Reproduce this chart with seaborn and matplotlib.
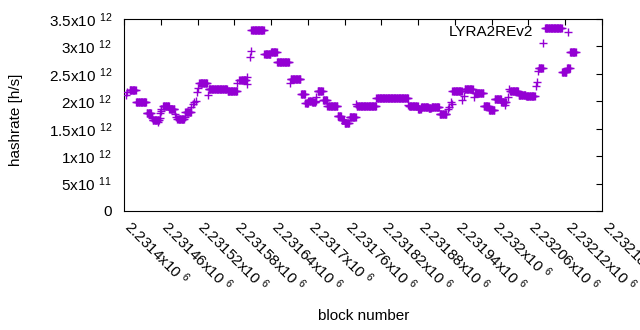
import numpy as np
import pandas as pd
import matplotlib
matplotlib.use("Agg")
import matplotlib.pyplot as plt
import matplotlib.transforms as mtransforms
import seaborn as sns
from matplotlib.ticker import FuncFormatter, FixedLocator

sns.set_theme(style="white")
plt.rcParams["font.family"] = ["Liberation Sans", "DejaVu Sans"]
plt.rcParams["mathtext.fontset"] = "custom"
plt.rcParams["mathtext.rm"] = "Liberation Sans"
plt.rcParams["mathtext.it"] = "Liberation Sans:italic"
plt.rcParams["mathtext.bf"] = "Liberation Sans:bold"
plt.rcParams["mathtext.default"] = "regular"

# ---- data: runs of blocks with a constant hashrate estimate ----
base_block = 2231400
run_start = [3, 5, 9, 20, 37, 45, 46, 47, 55, 58, 59, 60, 61, 64, 74, 83, 85, 87, 99, 100,
             110, 112, 115, 117, 119, 120, 123, 137, 138, 169, 185, 187, 190, 200, 201, 205, 207, 208, 229, 240,
             250, 271, 272, 289, 296, 301, 307, 313, 314, 316, 325, 332, 333, 349, 355, 360, 368, 379, 380, 412,
             464, 465, 480, 485, 497, 502, 515, 529, 531, 533, 535, 536, 552, 554, 556, 571, 573, 587, 596, 605,
             616, 622, 626, 629, 630, 644, 656, 672, 674, 676, 677, 684, 687, 715, 723, 724, 728]
run_end = [3, 5, 19, 36, 44, 45, 46, 57, 55, 58, 59, 60, 61, 73, 82, 83, 85, 98, 99, 109,
           110, 112, 115, 117, 119, 120, 135, 137, 168, 184, 185, 187, 199, 200, 201, 205, 207, 228, 239, 249,
           269, 271, 288, 295, 300, 306, 312, 313, 314, 324, 331, 332, 348, 354, 359, 367, 378, 379, 411, 463,
           464, 479, 484, 496, 501, 514, 526, 529, 531, 533, 535, 551, 552, 554, 569, 571, 586, 595, 604, 615,
           623, 622, 626, 629, 643, 655, 670, 672, 674, 676, 683, 684, 714, 722, 727, 724, 737]
run_value = [2.12, 2.17, 2.20, 1.98, 1.78, 1.72, 1.69, 1.66, 1.63, 1.70, 1.78, 1.83, 1.86, 1.92, 1.865, 1.77, 1.72, 1.668, 1.72, 1.81,
             1.90, 1.95, 1.99, 2.01, 2.17, 2.24, 2.33, 2.12, 2.22, 2.19, 2.33, 2.38, 2.39, 2.31, 2.45, 2.80, 2.92, 3.294, 2.856, 2.89,
             2.71, 2.33, 2.40, 2.127, 1.96, 2.00, 1.98, 2.08, 2.00, 2.18, 2.02, 1.91, 1.918, 1.737, 1.65, 1.60, 1.72, 1.95, 1.909, 2.069,
             1.93, 1.92, 1.86, 1.887, 1.872, 1.887, 1.765, 1.86, 1.90, 1.99, 1.95, 2.19, 2.02, 2.10, 2.218, 2.08, 2.16, 1.914, 1.835, 2.05,
             1.98, 1.93, 2.07, 2.22, 2.18, 2.12, 2.10, 2.28, 2.36, 2.557, 2.60, 3.057, 3.345, 2.54, 2.60, 3.257, 2.904]
value_scale = 1e12

blocks, rates = [], []
for s, e, v in zip(run_start, run_end, run_value):
    for b in range(s, e + 1):
        blocks.append(base_block + b)
        rates.append(v * value_scale)
df = pd.DataFrame({"block": blocks, "hashrate": rates})

x_ticks = list(range(2231400, 2232181, 60))
y_ticks = [0, 0.5e12, 1e12, 1.5e12, 2e12, 2.5e12, 3e12, 3.5e12]

fig = plt.figure(figsize=(6.4, 3.3), dpi=100)
ax = fig.add_axes([124 / 640, 1 - 211 / 330, (602 - 124) / 640, (211 - 19) / 330])

sns.scatterplot(data=df, x="block", y="hashrate", marker="+", s=26, color="#9400d3",
                linewidth=1.0, ax=ax, legend=False, zorder=3)

ax.set_xlim(2231400, 2232180)
ax.set_ylim(0, 3.5e12)


def sci(v, pos=None):
    if v == 0:
        return "0"
    exp = int(np.floor(np.log10(abs(v)) + 1e-9))
    man = v / 10 ** exp
    return "%gx10 $^{%d}$" % (round(man, 6), exp)


ax.xaxis.set_major_locator(FixedLocator(x_ticks))
ax.yaxis.set_major_locator(FixedLocator(y_ticks))
ax.xaxis.set_major_formatter(FuncFormatter(sci))
ax.yaxis.set_major_formatter(FuncFormatter(sci))

ax.tick_params(axis="both", direction="in", top=True, right=True, length=4.5, width=0.8,
               color="black", labelsize=11, labelcolor="black")
ax.tick_params(axis="y", pad=8.5)
ax.tick_params(axis="x", pad=9)
shift = mtransforms.ScaledTranslation(2.5 / 72, 0, fig.dpi_scale_trans)
for lab in ax.get_xticklabels():
    lab.set_rotation(-45)
    lab.set_ha("left")
    lab.set_va("center")
    lab.set_rotation_mode("anchor")
    lab.set_transform(lab.get_transform() + shift)

for sp in ax.spines.values():
    sp.set_color("black")
    sp.set_linewidth(0.8)

ax.set_xlabel("")
ax.set_ylabel("")
fig.text(364 / 640, 1 - 315.5 / 330, "block number", ha="center", va="center",
         fontsize=11, color="black")
fig.text(16.5 / 640, 1 - 120 / 330, "hashrate [h/s]", ha="center", va="center",
         rotation=90, fontsize=11, color="black")

ax.text(533 / 640, 1 - 31.5 / 330, "LYRA2REv2", transform=fig.transFigure,
        ha="right", va="center", fontsize=11, color="black")

fig.savefig("out.png", dpi=100)
